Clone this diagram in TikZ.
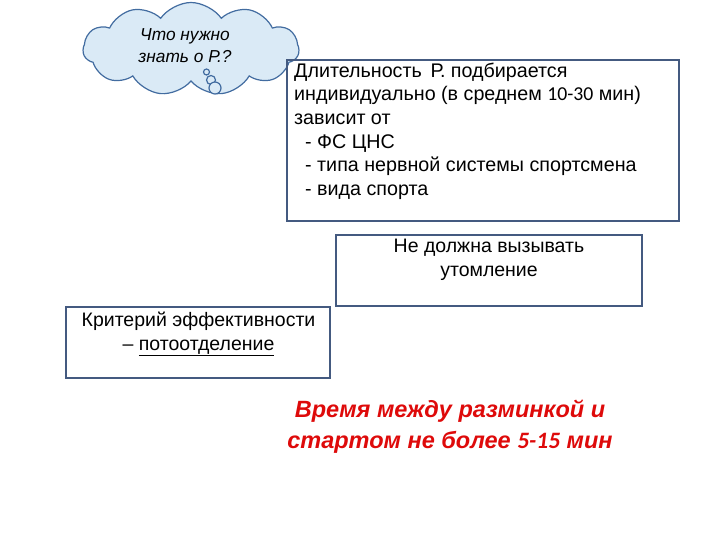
\documentclass[tikz,border=0pt]{standalone}
\usepackage{fontspec}
\setmainfont{Liberation Sans}
\newfontfamily\calib{Carlito}
\usetikzlibrary{shapes.symbols}
\definecolor{boxline}{RGB}{68,90,128}
\definecolor{cloudfill}{RGB}{218,234,246}
\definecolor{cloudline}{RGB}{66,108,160}
\definecolor{redtxt}{RGB}{222,10,10}
\tikzset{
  infobox/.style={draw=boxline, line width=1.6pt},
  bodytext/.style={inner sep=0pt, align=left, font=\fontsize{19.7}{23.6}\selectfont},
  centertext/.style={inner sep=0pt, align=center, font=\fontsize{19.5}{24}\selectfont},
  bubble/.style={circle, draw=cloudline, fill=cloudfill, line width=1.2pt, inner sep=0pt},
}
\begin{document}
\begin{tikzpicture}[x=1pt,y=-1pt]
\useasboundingbox (0,0) rectangle (720,540);
% cloud
\node[cloud, cloud puffs=11, cloud puff arc=110, aspect=2.3, draw=cloudline, fill=cloudfill, line width=1.2pt, minimum width=216pt, minimum height=93pt, inner sep=0pt] (cloud) at (191,49) {};
\node[inner sep=0pt, align=center, font=\fontsize{17.3}{21.8}\selectfont\itshape] (cloudtxt) at (185,46) {Что нужно\\знать о Р.?};
\node[bubble, minimum size=6pt] (b1) at (206.5,72) {};
\node[bubble, minimum size=9pt] (b2) at (211,80) {};
\node[bubble, minimum size=12pt] (b3) at (215,88) {};
% box 1
\draw[infobox] (287,60) rectangle (679,221);
\node[bodytext, anchor=north west] (t1) at (294,62.6) {Длительность \,Р. подбирается\\индивидуально (в среднем {\calib 10-30} мин)\\зависит от\\\hspace*{11pt}- ФС ЦНС\\\hspace*{11pt}- типа нервной системы спортсмена\\\hspace*{11pt}- вида спорта};
% box 2
\draw[infobox] (336,235) rectangle (642,306);
\node[centertext, anchor=north] (t2) at (489,238.8) {Не должна вызывать\\утомление};
% box 3
\draw[infobox] (66,307) rectangle (330,378);
\node[centertext, anchor=north] (t3) at (198.5,311.4) {Критерий эффективности\\– \underline{потоотделение}};
% red text
\node[inner sep=0pt, align=center, text=redtxt, font=\fontsize{23.5}{30.5}\selectfont\bfseries\itshape, anchor=north] (t4) at (450,400) {Время между разминкой и\\стартом не более {\calib 5-15} мин};
\end{tikzpicture}
\end{document}
